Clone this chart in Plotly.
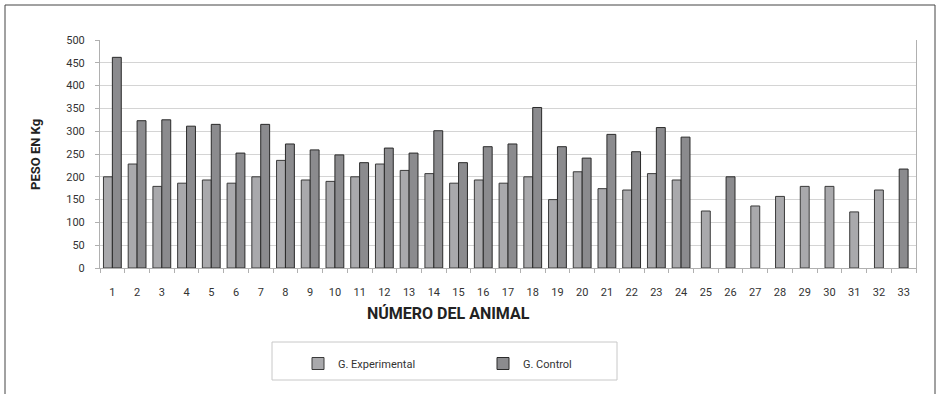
import plotly.graph_objects as go

animals = list(range(1, 34))
tick_labels = [str(a) for a in animals]

# G. Experimental (None where no bar)
experimental = [200, 228, 179, 186, 193, 186, 200, 236, 193, 190,
                200, 228, 214, 207, 186, 193, 186, 200, 150, 211,
                174, 171, 207, 193, 125, None, 136, 157, 179, 179,
                123, 171, None]
# G. Control
control = [462, 323, 325, 311, 315, 252, 315, 272, 259, 248,
           231, 263, 252, 301, 231, 266, 272, 352, 266, 241,
           293, 255, 308, 287, None, 200, None, None, None, None,
           None, None, 217]

BW = 0.36
def offsets(own, other, left):
    res = []
    for a, b in zip(own, other):
        if b is None:
            res.append(-BW / 2)
        else:
            res.append(-BW if left else 0)
    return res

exp_off = offsets(experimental, control, True)
ctl_off = offsets(control, experimental, False)

fig = go.Figure()
fig.add_trace(go.Bar(
    x=animals, y=experimental, name="G. Experimental",
    width=BW, offset=exp_off,
    marker=dict(color="#a9a9ac", line=dict(color="#3a3a3a", width=1)),
))
fig.add_trace(go.Bar(
    x=animals, y=control, name="G. Control",
    width=BW, offset=ctl_off,
    marker=dict(color="#8b8b8e", line=dict(color="#2a2a2a", width=1)),
))

font_family = "Liberation Sans Narrow, Arial Narrow, Roboto, sans-serif"

L, R, T, B = 100, 24, 40, 126
W, H = 940, 394
PW, PH = W - L - R, H - T - B

def px(x):
    return (x - L) / PW

def py(y):
    return (H - B - y) / PH

fig.update_layout(
    width=W, height=H,
    margin=dict(l=L, r=R, t=T, b=B),
    paper_bgcolor="white", plot_bgcolor="white",
    barmode="overlay",
    font=dict(family=font_family, size=11, color="#333333"),
    showlegend=True,
    legend=dict(
        orientation="h", x=px(298), y=py(349), xanchor="left", yanchor="top",
        entrywidth=140, entrywidthmode="pixels",
        font=dict(family=font_family, size=11, color="#333333"),
        bgcolor="rgba(0,0,0,0)", borderwidth=0,
    ),
    xaxis=dict(
        range=[0.5, 33.5], tickmode="array", tickvals=animals, ticktext=tick_labels,
        ticks="", showgrid=False, showline=True, linecolor="#b0b0b0", linewidth=1,
        ticklabelstandoff=14, tickfont=dict(size=11, color="#333333"),
        minor=dict(tickvals=[a + 0.5 for a in range(0, 34)], ticks="outside",
                   ticklen=4, tickcolor="#b0b0b0", showgrid=False),
        zeroline=False,
    ),
    yaxis=dict(
        range=[0, 500], tickmode="linear", tick0=0, dtick=50,
        showgrid=True, gridcolor="#d4d4d4", gridwidth=1,
        showline=True, linecolor="#b0b0b0", linewidth=1, mirror=True,
        ticks="outside", ticklen=4, tickcolor="#b0b0b0",
        ticklabelstandoff=8, tickfont=dict(size=11, color="#333333"),
        zeroline=False,
    ),
    shapes=[
        dict(type="rect", xref="paper", yref="paper",
             x0=px(5), x1=px(935), y0=py(420), y1=py(5),
             line=dict(color="#444444", width=1), fillcolor="rgba(0,0,0,0)", layer="below"),
        dict(type="rect", xref="paper", yref="paper",
             x0=px(272), x1=px(617), y0=py(380), y1=py(342),
             line=dict(color="#c8c8c8", width=1), fillcolor="rgba(0,0,0,0)", layer="below"),
    ],
    annotations=[
        dict(text="<b>NÚMERO DEL ANIMAL</b>", xref="paper", yref="paper",
             x=px(448), y=py(313), xanchor="center", yanchor="middle", showarrow=False,
             font=dict(family=font_family, size=16, color="#222222")),
        dict(text="<b>PESO EN Kg</b>", xref="paper", yref="paper",
             x=px(35), y=py(155), xanchor="center", yanchor="middle", showarrow=False,
             textangle=-90,
             font=dict(family=font_family, size=13, color="#222222")),
    ],
)

fig.write_html(
    "out.html",
    config={"displayModeBar": False},
    post_script="document.body.style.margin='0';document.body.style.overflow='hidden';",
)
